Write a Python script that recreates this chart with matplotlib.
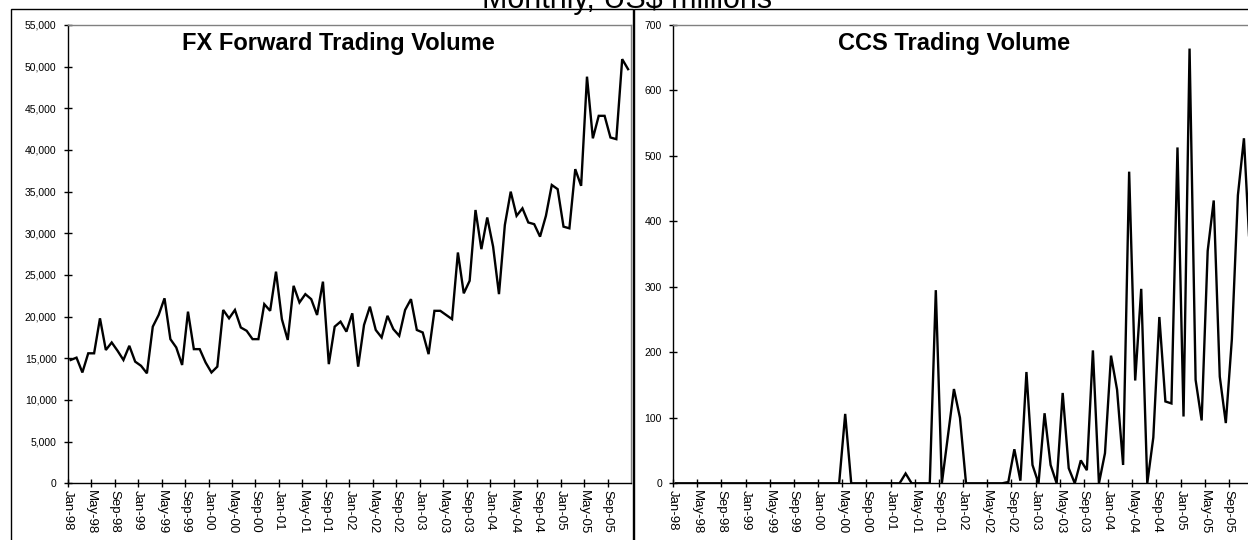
import matplotlib
matplotlib.use("Agg")
import matplotlib.pyplot as plt
from matplotlib.patches import Rectangle
from matplotlib.ticker import FuncFormatter

# ---- data -------------------------------------------------------------
months = [f"{m}-{y:02d}" for y in range(98, 100) for m in
          ["Jan", "Feb", "Mar", "Apr", "May", "Jun", "Jul", "Aug", "Sep", "Oct", "Nov", "Dec"]] + \
         [f"{m}-{y:02d}" for y in range(0, 6) for m in
          ["Jan", "Feb", "Mar", "Apr", "May", "Jun", "Jul", "Aug", "Sep", "Oct", "Nov", "Dec"]]

fx_volume = [14800, 15080, 13300, 15600, 15600, 19800, 16000, 16900, 15900, 14800,
             16500, 14600, 14100, 13200, 18800, 20200, 22200, 17300, 16300, 14200,
             20600, 16100, 16100, 14500, 13300, 14000, 20800, 19800, 20800, 18700,
             18300, 17300, 17300, 21500, 20700, 25400, 19700, 17200, 23700, 21700,
             22700, 22100, 20200, 24200, 14300, 18800, 19400, 18200, 20400, 14000,
             19000, 21200, 18400, 17500, 20100, 18500, 17700, 20800, 22100, 18400,
             18100, 15500, 20700, 20700, 20200, 19700, 27700, 22800, 24300, 32800,
             28100, 31900, 28400, 22700, 31000, 35000, 32100, 33000, 31300, 31100,
             29600, 32100, 35800, 35300, 30800, 30600, 37700, 35700, 48800, 41400,
             44100, 44100, 41500, 41300, 50900, 49700]

ccs_volume = [0, 0, 0, 0, 0, 0, 0, 0, 0, 0, 0, 0,
              0, 0, 0, 0, 0, 0, 0, 0, 0, 0, 0, 0,
              0, 0, 0, 0, 106, 0, 0, 0, 0, 0, 0, 0,
              0, 0, 15, 0, 0, 0, 0, 295, 0, 72, 144, 100,
              0, 0, 0, 0, 0, 0, 0, 2, 52, 4, 170, 28,
              0, 107, 28, 0, 138, 23, 0, 35, 20, 203, 0, 46,
              195, 143, 28, 476, 157, 297, 0, 70, 254, 125, 122, 513,
              102, 664, 158, 96, 355, 432, 163, 92, 220, 440, 527, 350]

tick_labels = months[::4]

main_title = "Monthly, US$ millions"
fx_title = "FX Forward Trading Volume"
ccs_title = "CCS Trading Volume"

# ---- figure -----------------------------------------------------------
W, H = 1248, 540
fig = plt.figure(figsize=(W / 100, H / 100), dpi=100)
plt.rcParams['font.family'] = ['Liberation Sans', 'DejaVu Sans']

def fx(px):
    return px / W

def fy(py):
    return 1 - py / H

# outer chart frames
fig.patches.append(Rectangle((fx(11), fy(560)), fx(633) - fx(11), fy(9) - fy(560),
                             transform=fig.transFigure, fill=False, edgecolor='black', lw=1.0))
fig.patches.append(Rectangle((fx(634), fy(560)), fx(1270) - fx(634), fy(9) - fy(560),
                             transform=fig.transFigure, fill=False, edgecolor='black', lw=1.0))

top, bottom = 25, 483.3
ax1 = fig.add_axes([fx(67.7), fy(bottom), fx(631) - fx(67.7), fy(top) - fy(bottom)])
ax2 = fig.add_axes([fx(673), fy(bottom), fx(1253) - fx(673), fy(top) - fy(bottom)])

def style(ax, data, ymax, ystep, fmt, title, tx):
    x = list(range(len(data)))
    ax.plot(x, data, color='black', lw=1.7, solid_joinstyle='miter')
    ax.set_xlim(-0.5, len(data) - 0.5)
    ax.set_ylim(0, ymax)
    ax.set_yticks(range(0, ymax + 1, ystep))
    ax.yaxis.set_major_formatter(FuncFormatter(fmt))
    ax.set_xticks([i - 0.5 for i in range(0, len(data), 4)])
    ax.set_xticklabels(tick_labels, rotation=-90, va='top', ha='center')
    ax.tick_params(axis='both', direction='inout', length=6, width=1, colors='black')
    ax.tick_params(axis='x', labelsize=9.5, pad=2)
    ax.tick_params(axis='y', labelsize=7.5, pad=5)
    for s in ['top', 'right']:
        ax.spines[s].set_color('#808080')
        ax.spines[s].set_linewidth(1)
    for s in ['left', 'bottom']:
        ax.spines[s].set_color('black')
        ax.spines[s].set_linewidth(1)
    fig.text(fx(tx), fy(50), title, ha='center', va='baseline',
             fontsize=17, fontweight='bold')

style(ax1, fx_volume, 55000, 5000, lambda v, p: f"{int(v):,}", fx_title, 338)
style(ax2, ccs_volume, 700, 100, lambda v, p: f"{int(v)}", ccs_title, 954)

fig.text(fx(627), fy(8), main_title, ha='center', va='baseline', fontsize=22)

fig.savefig("out.png", dpi=100)
